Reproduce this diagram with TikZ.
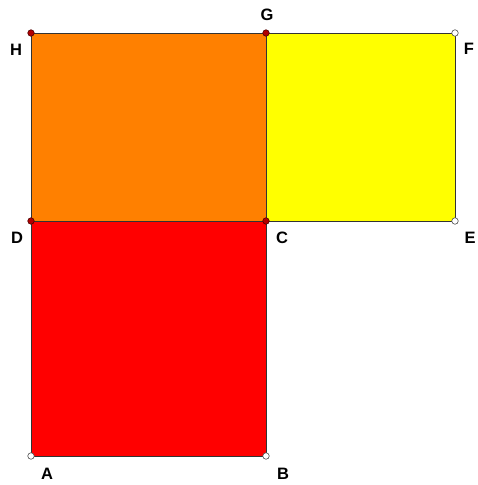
\documentclass[tikz,border=0pt]{standalone}
\usepackage{fontspec}
\setmainfont{Liberation Sans}
\begin{document}
\begin{tikzpicture}[x=1pt,y=-1pt,
  edge/.style={draw=black!80,line width=0.9pt},
  redpt/.style={circle,draw=black!70!red,fill=red!70!black,inner sep=0pt,minimum size=6.5pt,line width=0.6pt},
  whitept/.style={circle,draw=black!70,fill=white,inner sep=0pt,minimum size=6.5pt,line width=0.6pt},
  lbl/.style={font=\fontsize{16.5}{16.5}\selectfont\bfseries,text=black,inner sep=0pt}]
\useasboundingbox (0,0) rectangle (477,485);
\fill[white] (0,0) rectangle (477,485);
\coordinate (h) at (31,33);
\coordinate (g) at (266,33);
\coordinate (f) at (455,33);
\coordinate (d) at (31,221);
\coordinate (c) at (266,221);
\coordinate (e) at (455,221);
\coordinate (a) at (31,456);
\coordinate (b) at (266,456);
\fill[fill={rgb,255:red,255;green,128;blue,0}] (d) -- (c) -- (g) -- (h) -- cycle;
\fill[fill={rgb,255:red,255;green,255;blue,0}] (c) -- (e) -- (f) -- (g) -- cycle;
\fill[fill={rgb,255:red,255;green,0;blue,0}] (a) -- (b) -- (c) -- (d) -- cycle;
\draw[edge] (a) -- (b) -- (c) -- (d) -- cycle;
\draw[edge] (d) -- (h) -- (g) -- (c);
\draw[edge] (c) -- (e) -- (f) -- (g);
\node[redpt] (H) at (h) {};
\node[redpt] (G) at (g) {};
\node[redpt] (D) at (d) {};
\node[redpt] (C) at (c) {};
\node[whitept] (F) at (f) {};
\node[whitept] (E) at (e) {};
\node[whitept] (A) at (a) {};
\node[whitept] (B) at (b) {};
\node[lbl] (lH) at (16,50) {H};
\node[lbl] (lG) at (267,15) {G};
\node[lbl] (lF) at (469,49) {F};
\node[lbl] (lD) at (17,238) {D};
\node[lbl] (lC) at (282,238) {C};
\node[lbl] (lE) at (470,238) {E};
\node[lbl] (lA) at (47,474) {A};
\node[lbl] (lB) at (283,474) {B};
\end{tikzpicture}
\end{document}
